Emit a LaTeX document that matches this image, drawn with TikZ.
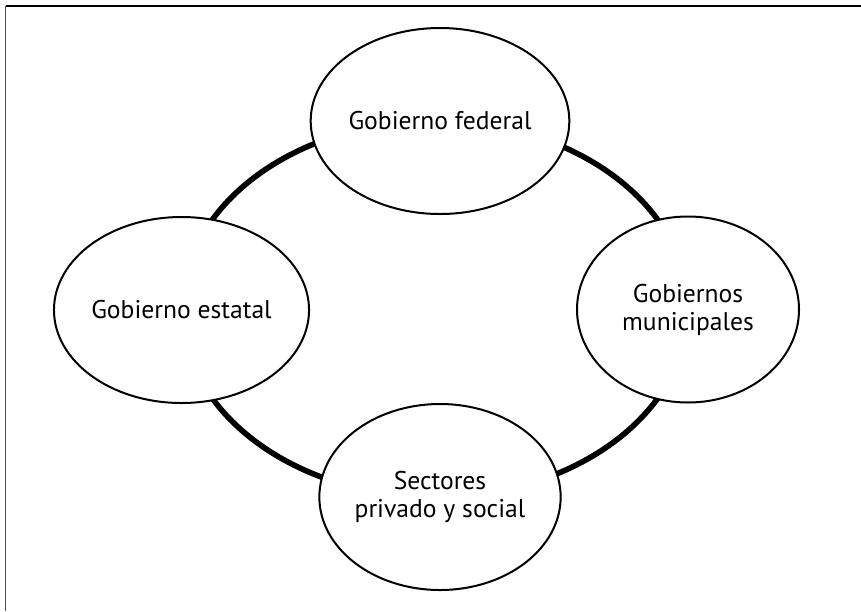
\documentclass[tikz,border=0pt]{standalone}
\usepackage{fontspec}
\setmainfont{PT Sans}
\usetikzlibrary{shapes.geometric}
\begin{document}
\begin{tikzpicture}[x=1pt,y=-1pt,
  actor/.style={ellipse,draw=black,fill=white,line width=2pt,
    minimum width=222pt,minimum height=186pt,inner sep=0pt,
    align=center,font=\fontsize{25.6}{28}\selectfont},
  ring/.style={line width=5.6pt,black},
  frameline/.style={line width=1.6pt}]
\useasboundingbox (0,0) rectangle (861,611);
\coordinate (ringc) at (435,309);
\draw[ring] (ringc) ellipse [x radius=253pt, y radius=188pt];
\node[actor] (fed) at (440,121) {Gobierno federal};
\node[actor] (est) at (181.5,310) {Gobierno estatal};
\node[actor] (mun) at (688,309.5) {Gobiernos\\municipales};
\node[actor] (sec) at (440,497) {Sectores\\privado y social};
\coordinate (tl) at (5.5,6);
\coordinate (tr) at (861,6);
\coordinate (bl) at (5.5,611);
\draw[frameline,black] (tl) -- (tr);
\draw[frameline,black!70] (tl) -- (bl);
\end{tikzpicture}
\end{document}
